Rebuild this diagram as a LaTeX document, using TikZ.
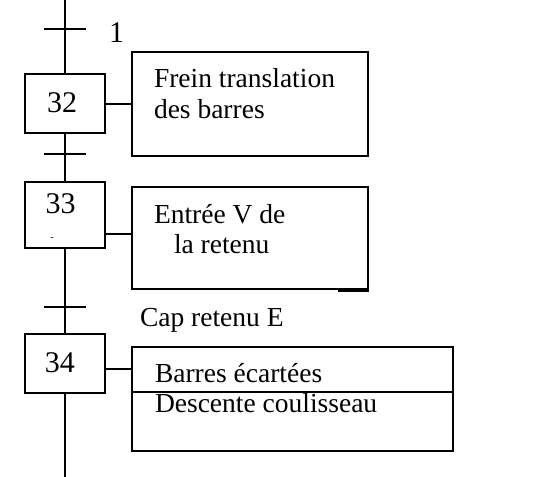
\documentclass[tikz,border=0pt]{standalone}
\usepackage{fontspec}
\setmainfont{Liberation Serif}
\usetikzlibrary{positioning}

\tikzset{
  stepbox/.style={draw, line width=2pt, fill=white, inner sep=0pt},
  actbox/.style={draw, line width=2pt, inner sep=0pt},
  num/.style={anchor=base, inner sep=0pt, font=\fontsize{30}{34}\selectfont},
  txt/.style={anchor=base west, inner sep=0pt, font=\fontsize{27.5}{32}\selectfont},
}

\begin{document}
\begin{tikzpicture}[x=1pt, y=-1pt, line width=2pt]
    \useasboundingbox (0,0) rectangle (555,477);

    % etapes
    \node[stepbox, minimum width=80, minimum height=59] (s32) at (65,103) {};
    \node[stepbox, minimum width=80, minimum height=66] (s33) at (65,215) {};
    \node[stepbox, minimum width=80, minimum height=59] (s34) at (65,363) {};
    \node[num] at (62,112) {32};
    \node[num] at (60.5,213) {33};
    \node[num] at (60,372) {34};
    \node[anchor=base, inner sep=0pt, font=\fontsize{10}{12}\selectfont] at (52,240) {-};

    % liaisons verticales
    \coordinate (haut) at (65,0);
    \coordinate (bas) at (65,477);
    \draw (haut) -- (s32.north);
    \draw (s32.south) -- (s33.north);
    \draw (s33.south) -- (s34.north);
    \draw (s34.south) -- (bas);

    % transitions
    \foreach \n\y in {1/29, 2/154, 3/307}{
      \coordinate (t\n) at (65,\y);
      \draw ([xshift=-21pt]t\n) -- ([xshift=21pt]t\n);
    }
    \node[num, anchor=base west] at (108,42) {1};
    \node[txt] at (139,326) {Cap retenu E};

    % actions
    \node[actbox, minimum width=236, minimum height=104] (a32) at (250,104) {};
    \node[actbox, minimum width=236, minimum height=102] (a33) at (250,238) {};
    \node[actbox, minimum width=321, minimum height=104] (a34) at (292.5,399) {};
    \draw ([yshift=-0.5pt, xshift=-31pt]a33.south east) -- ++(31,0);
    \draw (a34.west |- 0,392) -- (a34.east |- 0,392);

    \draw ([yshift=-1pt]s32.east) -- ([yshift=-1pt]s32.east -| a32.west);
    \draw ([yshift=-19pt]s33.east) -- ([yshift=-19pt]s33.east -| a33.west);
    \draw ([yshift=-6pt]s34.east) -- ([yshift=-6pt]s34.east -| a34.west);

    \node[txt] at (153,87) {Frein translation};
    \node[txt] at (153,118) {des barres};
    \node[txt] at (153,223) {Entrée V de};
    \node[txt] at (173,253) {la retenu};
    \node[txt] at (154,382) {Barres écartées};
    \node[txt] at (154,412) {Descente coulisseau};
\end{tikzpicture}
\end{document}
